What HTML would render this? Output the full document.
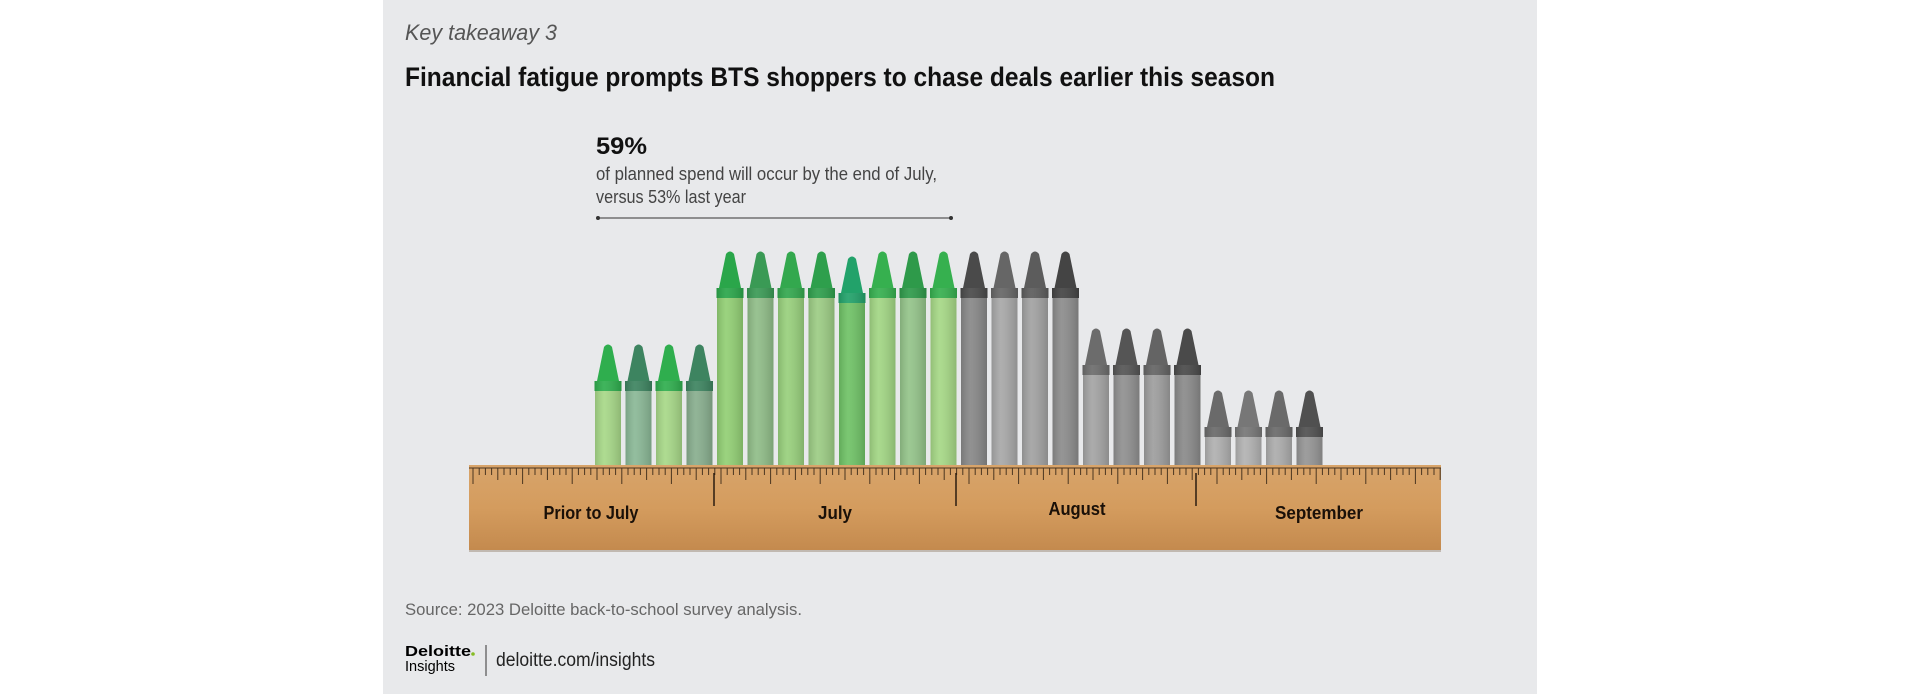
<!DOCTYPE html>
<html><head><meta charset="utf-8"><style>
body{margin:0;background:#fff;width:1920px;height:694px;overflow:hidden}
svg{display:block}
text{font-family:"Liberation Sans",sans-serif}
</style></head><body>
<svg id="c" width="1920" height="694" viewBox="0 0 1920 694">
<defs>
<linearGradient id="wood" x1="0" y1="0" x2="0" y2="1">
<stop offset="0" stop-color="#d8a46a"/><stop offset="0.5" stop-color="#d49c5e"/><stop offset="1" stop-color="#c48a4e"/>
</linearGradient>
<linearGradient id="shade" x1="0" y1="0" x2="1" y2="0">
<stop offset="0" stop-color="#000" stop-opacity="0.12"/><stop offset="0.35" stop-color="#fff" stop-opacity="0.08"/><stop offset="1" stop-color="#000" stop-opacity="0.15"/>
</linearGradient>
</defs>
<rect x="383" y="0" width="1154" height="694" fill="#e8e9eb"/>
<text x="405" y="40" font-family="Liberation Serif,serif" font-style="italic" font-size="22" fill="#555" textLength="152" lengthAdjust="spacingAndGlyphs">Key takeaway 3</text>
<text x="405" y="86" font-size="27" font-weight="bold" fill="#111" textLength="870" lengthAdjust="spacingAndGlyphs">Financial fatigue prompts BTS shoppers to chase deals earlier this season</text>
<text x="596" y="154" font-size="24" font-weight="bold" fill="#111" textLength="51" lengthAdjust="spacingAndGlyphs">59%</text>
<text x="596" y="180" font-size="18" fill="#444" textLength="341" lengthAdjust="spacingAndGlyphs">of planned spend will occur by the end of July,</text>
<text x="596" y="203" font-size="18" fill="#444" textLength="150" lengthAdjust="spacingAndGlyphs">versus 53% last year</text>
<g>
<line x1="598" y1="218" x2="951" y2="218" stroke="#333" stroke-width="1"/>
<circle cx="598" cy="218" r="2" fill="#333"/><circle cx="951" cy="218" r="2" fill="#333"/>
</g>
<g id="crayons"></g>
<g id="ruler"></g>
<text x="405" y="615" font-size="17" fill="#666" textLength="397" lengthAdjust="spacingAndGlyphs">Source: 2023 Deloitte back-to-school survey analysis.</text>
<g>
<text x="405" y="656" font-size="15" font-weight="bold" fill="#000" textLength="66" lengthAdjust="spacingAndGlyphs">Deloitte</text>
<circle cx="473" cy="654" r="1.8" fill="#86bc25"/>
<text x="405" y="671" font-size="15" fill="#000" textLength="50" lengthAdjust="spacingAndGlyphs">Insights</text>
</g>
<line x1="486" y1="645" x2="486" y2="676" stroke="#333" stroke-width="1"/>
<text x="496" y="666" font-size="19" fill="#222" textLength="159" lengthAdjust="spacingAndGlyphs">deloitte.com/insights</text>
</svg>
<script>
const categories = ['Prior to July','July','August','September'];
const crayonMonth = [0,0,0,0,1,1,1,1,1,1,1,1,2,2,2,2,2,2,2,2,3,3,3,3];
const crayonValues = [12.2,12.2,12.2,12.2,21.5,21.5,21.5,21.5,21.0,21.5,21.5,21.5,21.5,21.5,21.5,21.5,13.8,13.8,13.8,13.8,7.6,7.6,7.6,7.6];
const tipColors = ['#2fae4e','#3d8460','#2fae4e','#3d8460','#2aa64a','#3a9a55','#33a84e','#2e9f4c','#22a26a','#36b04f','#2e9a4a','#36b04f','#4a4a4a','#666','#5c5c5c','#444','#6c6c6c','#555','#646464','#4a4a4a','#6a6a6a','#777','#6a6a6a','#505050'];
const bodyColors = ['#a7d888','#8ab896','#a7d888','#88ae8e','#92cf74','#90bd88','#98d07c','#9ccc84','#6fc266','#a2d684','#94c48a','#a6d886','#888','#a8a8a8','#a2a2a2','#8c8c8c','#a4a4a4','#909090','#9e9e9e','#8a8a8a','#b0b0b0','#b2b2b2','#acacac','#959595'];
const ns='http://www.w3.org/2000/svg';
const x0=594, cw=30.5, baseY=465, pxPerUnit=10;
function xScale(i){return x0+i*cw;}
function yScale(v){return baseY-v*pxPerUnit;}
function mk(tag,attrs,parent){const e=document.createElementNS(ns,tag);for(const k in attrs)e.setAttribute(k,attrs[k]);parent.appendChild(e);return e;}
const cg=document.getElementById('crayons');
crayonValues.forEach((v,i)=>{
  const g=mk('g',{},cg);
  
  
  const x=xScale(i), top=yScale(v), w=28, cx=x+w/2;
  const tipH=38, bandH=10;
  const bandY=top+tipH;
  mk('rect',{x:x+1,y:bandY,width:w-2,height:baseY-bandY+6,fill:bodyColors[i]},g);
  mk('rect',{x:x+1,y:bandY,width:w-2,height:baseY-bandY+6,fill:'url(#shade)'},g);
  mk('path',{d:`M${cx-11},${bandY} L${cx-4},${top+4} Q${cx},${top-1} ${cx+4},${top+4} L${cx+11},${bandY} Z`,fill:tipColors[i]},g);
  mk('rect',{x:x+0.5,y:bandY,width:w-1,height:bandH,fill:tipColors[i]},g);
  mk('rect',{x:x+0.5,y:bandY,width:w-1,height:bandH,fill:'url(#shade)'},g);
});
const rg=document.getElementById('ruler');
const rx0=469, rx1=1441, ry0=465, ry1=550;
const r=mk('g',{},rg);


mk('rect',{x:rx0,y:ry0+2,width:rx1-rx0,height:ry1-ry0,fill:'#9a8a78',opacity:0.5},r);
mk('rect',{x:rx0,y:ry0,width:rx1-rx0,height:ry1-ry0,fill:'url(#wood)'},r);
for(let t=rx0+4;t<rx1;t+=6.2){
  const k=Math.round((t-rx0-4)/6.2);
  const len=k%8===0?16:(k%4===0?12:7);
  mk('line',{x1:t,y1:ry0+3,x2:t,y2:ry0+3+len,stroke:'#4a3520','stroke-width':1},r);
}
mk('line',{x1:rx0,y1:ry0+3,x2:rx1,y2:ry0+3,stroke:'#4a3520','stroke-width':1},r);
const divX=[714,956,1196];
divX.forEach(x=>mk('line',{x1:x,y1:ry0+8,x2:x,y2:ry0+41,stroke:'#2a1c10','stroke-width':1.5},r));
const labelX=[591,835,1077,1319], labelY=[519,519,515,519], labelW=[95,34,57,88];
categories.forEach((c,i)=>{
  const t=mk('text',{x:labelX[i],y:labelY[i],'text-anchor':'middle','font-size':18,'font-weight':'bold',fill:'#1a1008',textLength:labelW[i],lengthAdjust:'spacingAndGlyphs'},rg);
  t.textContent=c;
  
  
});
</script>
</body></html>
